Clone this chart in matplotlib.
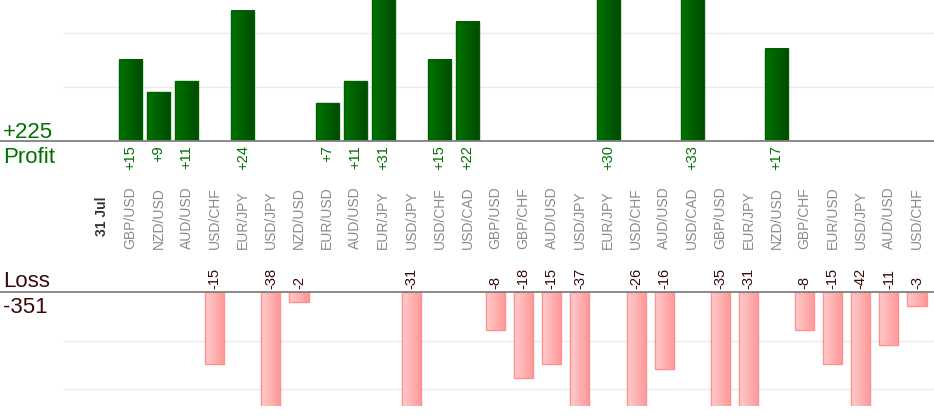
import numpy as np
import matplotlib
matplotlib.use('Agg')
import matplotlib.pyplot as plt
import matplotlib.transforms as mtransforms
from matplotlib.colors import LinearSegmentedColormap

plt.rcParams['font.family'] = ['Liberation Sans', 'DejaVu Sans']

day_label = '31 Jul'
pairs = ['GBP/USD', 'NZD/USD', 'AUD/USD', 'USD/CHF', 'EUR/JPY', 'USD/JPY', 'NZD/USD',
         'EUR/USD', 'AUD/USD', 'EUR/JPY', 'USD/JPY', 'USD/CHF', 'USD/CAD', 'GBP/USD',
         'GBP/CHF', 'AUD/USD', 'USD/JPY', 'EUR/JPY', 'USD/CHF', 'AUD/USD', 'USD/CAD',
         'GBP/USD', 'EUR/JPY', 'NZD/USD', 'GBP/CHF', 'EUR/USD', 'USD/JPY', 'AUD/USD',
         'USD/CHF']
pnl = [15, 9, 11, -15, 24, -38, -2, 7, 11, 31, -31, 15, 22, -8, -18, -15, -37, 30,
       -26, -16, 33, -35, -31, 17, -8, -15, -42, -11, -3]

W, H = 934, 420
step = 28.09       # pixels per category
x0_px = 102.4      # pixel position of the date column

profit = [v for v in pnl if v > 0]
loss = [v for v in pnl if v < 0]
total_profit = sum(profit)
total_loss = sum(loss)

fig = plt.figure(figsize=(W / 100, H / 100), dpi=100)
ax_top = fig.add_axes([0, (H - 141) / H, 1, 141 / H])
ax_bot = fig.add_axes([0, (H - 406) / H, 1, 114 / H])

xlim = (-x0_px / step, (W - x0_px) / step)
grid_start = (63 - x0_px) / step

green_cmap = LinearSegmentedColormap.from_list('g', ['#007400', '#004a00'])
pink_cmap = LinearSegmentedColormap.from_list('p', ['#ffcccc', '#ff9797'])
grad = np.linspace(0, 1, 64).reshape(1, -1)


def gradient_bars(ax, xs, vals, width, cmap, edge):
    bars = ax.bar(xs, vals, width=width, color='none', edgecolor=edge, linewidth=1, zorder=3)
    for b in bars:
        x, y = b.get_x(), b.get_y()
        w, h = b.get_width(), b.get_height()
        im = ax.imshow(grad, cmap=cmap, aspect='auto', extent=(x, x + w, y, y + h),
                       zorder=2, interpolation='bicubic')
        im.set_clip_path(b)
        im.set_clip_box(ax.bbox)
    return bars


xs = np.arange(1, len(pnl) + 1)
pos_x = [x for x, v in zip(xs, pnl) if v > 0]
neg_x = [x for x, v in zip(xs, pnl) if v < 0]

# profit panel
gradient_bars(ax_top, pos_x, profit, 0.82, green_cmap, '#006000')
for y in [10, 20]:
    ax_top.hlines(y, grid_start, xlim[1], color='#ebebeb', lw=1, zorder=1)
ax_top.axhline(0, color='#808080', lw=1.3, zorder=4, clip_on=False)
for x, v in zip(pos_x, profit):
    ax_top.annotate(f'+{v}', (x, 0), xytext=(0, -3), textcoords='offset points',
                    rotation=90, ha='center', va='top', fontsize=10.5,
                    color='#007000', annotation_clip=False)
ax_top.set_xlim(xlim)
ax_top.set_ylim(0, 141 / 5.42)

# loss panel
gradient_bars(ax_bot, neg_x, loss, 0.68, pink_cmap, '#ff9090')
for y in [-10.2, -20.2]:
    ax_bot.hlines(y, grid_start, xlim[1], color='#ebebeb', lw=1, zorder=1)
ax_bot.axhline(0, color='#808080', lw=1.3, zorder=4, clip_on=False)
for x, v in zip(neg_x, loss):
    ax_bot.annotate(f'{v}', (x, 0), xytext=(0, 2), textcoords='offset points',
                    rotation=90, ha='center', va='bottom', fontsize=10.5,
                    color='#3a0808', annotation_clip=False)
ax_bot.set_xlim(xlim)
ax_bot.set_ylim(-114 / 4.8, 0)

for ax in (ax_top, ax_bot):
    ax.set_axis_off()

# category labels between the panels
trans = mtransforms.blended_transform_factory(ax_top.transData, fig.transFigure)
fig.text(0, (H - 236) / H, day_label, transform=trans, rotation=90, ha='center',
         va='bottom', fontsize=10, fontweight='bold', color='#333333')
for x, name in zip(xs, pairs):
    fig.text(x, (H - 249) / H, name, transform=trans, rotation=90, ha='center',
             va='bottom', fontsize=10, color='#8a8a8a')

# totals on the left
fig.text(3 / W, (H - 138) / H, f'+{total_profit}', fontsize=16, color='#007000', va='baseline')
fig.text(3 / W, (H - 163) / H, 'Profit', fontsize=16, color='#007000', va='baseline')
fig.text(3 / W, (H - 287) / H, 'Loss', fontsize=16, color='#3a0808', va='baseline')
fig.text(3 / W, (H - 313) / H, f'{total_loss}', fontsize=16, color='#3a0808', va='baseline')

fig.savefig('out.png', dpi=100)
